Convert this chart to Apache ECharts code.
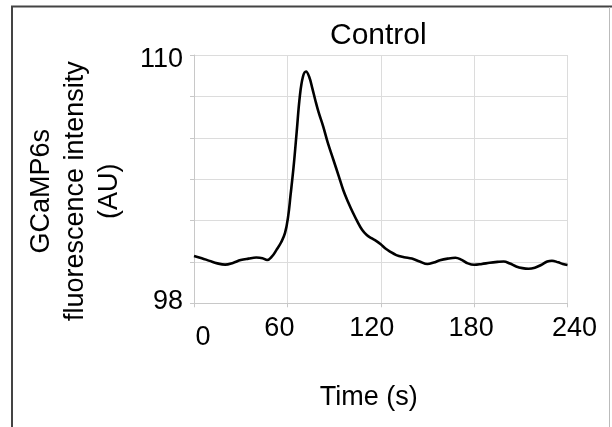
<!DOCTYPE html>
<html>
<head>
<meta charset="utf-8">
<script src="https://cdn.jsdelivr.net/npm/echarts@6/dist/echarts.min.js"></script>
<style>
  html, body { margin: 0; padding: 0; background: #fff; }
  #chart { width: 612px; height: 427px; }
</style>
</head>
<body>
<div id="chart"></div>
<script>
// ---- data ----
var chartTitle = 'Control';
var xAxisTitle = 'Time (s)';
var yAxisTitle = 'GCaMP6s\nfluorescence intensity\n(AU)';
var xTicks = [0, 60, 120, 180, 240];
var yTickLabels = [98, 110];
var times = [0, 5, 10, 15, 20, 25, 30, 35, 40, 44, 47, 50, 53, 56, 58.5, 60.5, 62, 64, 66, 68, 70, 72, 74, 76, 78, 80, 83, 86, 89.5, 93, 96, 99, 102, 105, 108, 111, 114, 117, 120, 123, 126, 130, 135, 140, 145, 150, 154, 158, 163, 168, 172, 176, 180, 185, 190, 195, 199, 203, 207, 211, 215, 219, 223, 227, 230, 234, 237, 240];
var intensity = [100.29, 100.18, 100.05, 99.93, 99.87, 99.95, 100.09, 100.16, 100.21, 100.18, 100.09, 100.25, 100.58, 100.95, 101.4, 102.2, 103.2, 104.6, 106.3, 108.0, 108.95, 109.2, 108.95, 108.4, 107.8, 107.25, 106.55, 105.75, 104.95, 104.15, 103.45, 102.9, 102.4, 101.95, 101.55, 101.3, 101.15, 101.02, 100.85, 100.65, 100.5, 100.33, 100.23, 100.16, 100.02, 99.9, 99.97, 100.08, 100.16, 100.2, 100.1, 99.93, 99.86, 99.9, 99.96, 100.0, 100.02, 99.92, 99.78, 99.7, 99.67, 99.72, 99.85, 100.02, 100.06, 99.98, 99.9, 99.85];

// ---- chart ----
var seriesData = times.map(function (t, i) { return [t, intensity[i]]; });
var narrow = "'Liberation Sans Narrow', 'Arial Narrow', 'Liberation Sans', Arial, sans-serif";
var regular = "'Liberation Sans', Arial, sans-serif";
function tickStyle(pad) {
  return { fontFamily: narrow, fontSize: 27, color: '#000', padding: pad };
}
var xShift = { 0: [9, 0, 0, 18], 60: [0, 16, 0, 0], 120: [0, 18, 0, 0], 180: [0, 6, 0, 0], 240: [0, 0, 0, 14] };
var xRich = {};
xTicks.forEach(function (v) { xRich['x' + v] = tickStyle(xShift[v]); });

var chart = echarts.init(document.getElementById('chart'), null, { renderer: 'canvas' });
chart.setOption({
  animation: false,
  backgroundColor: '#fff',
  title: {
    text: chartTitle,
    left: 330,
    top: 21,
    padding: 0,
    textStyle: { fontFamily: regular, fontSize: 30, fontWeight: 'normal', color: '#000' }
  },
  grid: { left: 194, right: 44.5, top: 55, bottom: 123.7, containLabel: false },
  xAxis: {
    type: 'value',
    min: xTicks[0],
    max: xTicks[xTicks.length - 1],
    interval: 60,
    name: xAxisTitle,
    nameLocation: 'middle',
    nameGap: 81,
    nameTextStyle: { fontFamily: regular, fontSize: 27, color: '#000', padding: [0, 24, 0, 0] },
    axisLine: { show: true, lineStyle: { color: '#c8c8c8', width: 1 } },
    axisTick: { show: true, length: 4, lineStyle: { color: '#c8c8c8' } },
    splitLine: { show: true, lineStyle: { color: '#dcdcdc', width: 1 } },
    axisLabel: {
      margin: 12,
      fontFamily: narrow, fontSize: 27, color: '#000',
      formatter: function (v) { return xTicks.indexOf(v) >= 0 ? '{x' + v + '|' + v + '}' : ''; },
      rich: xRich
    }
  },
  yAxis: {
    type: 'value',
    min: 98,
    max: 110,
    interval: 2,
    name: yAxisTitle,
    nameLocation: 'middle',
    nameRotate: 90,
    nameGap: 67,
    nameTextStyle: { fontFamily: regular, fontSize: 27, lineHeight: 34, color: '#000', align: 'center', padding: [0, 24, 0, 0] },
    axisLine: { show: true, lineStyle: { color: '#c8c8c8', width: 1 } },
    axisTick: { show: true, length: 4, lineStyle: { color: '#c8c8c8' } },
    splitLine: { show: true, lineStyle: { color: '#dcdcdc', width: 1 } },
    axisLabel: {
      margin: 11,
      fontFamily: narrow, fontSize: 27, color: '#000',
      formatter: function (v) {
        if (v === yTickLabels[1]) return '{top|' + v + '}';
        if (v === yTickLabels[0]) return '{bot|' + v + '}';
        return '';
      },
      rich: {
        top: tickStyle([10, 0, 0, 0]),
        bot: tickStyle([0, 0, 4, 0])
      }
    }
  },
  series: [{
    type: 'line',
    data: seriesData,
    smooth: 0.4,
    showSymbol: false,
    lineStyle: { color: '#000', width: 2.6 },
    clip: true
  }],
  graphic: [
    { type: 'polyline', shape: { points: [[12, 427], [12, 6.5], [612, 6.5]] }, style: { stroke: '#444', lineWidth: 2, fill: null }, silent: true },
    { type: 'line', shape: { x1: 609.5, y1: 7, x2: 609.5, y2: 427 }, style: { stroke: '#bbb', lineWidth: 1 }, silent: true }
  ]
});
</script>
</body>
</html>
